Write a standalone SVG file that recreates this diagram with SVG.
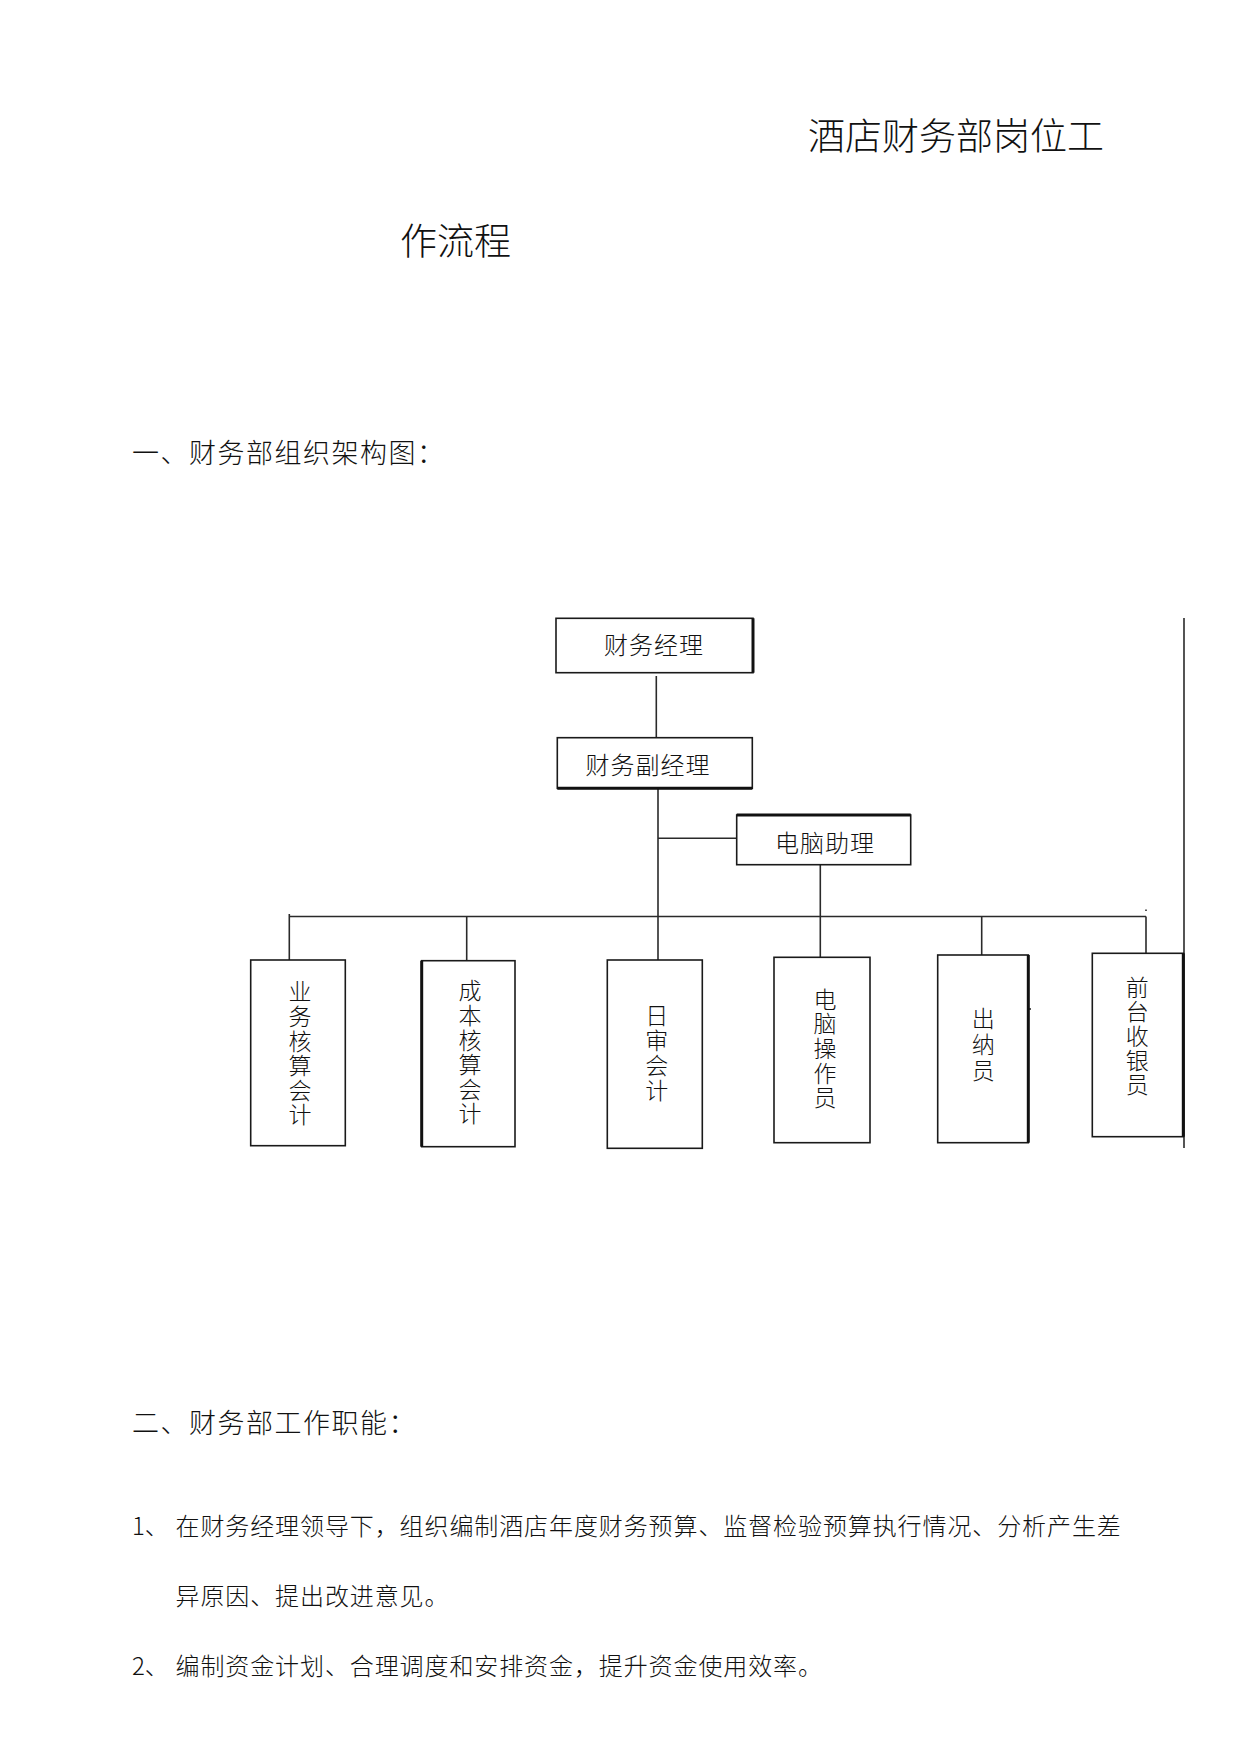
<svg xmlns="http://www.w3.org/2000/svg" width="1240" height="1754" viewBox="0 0 1240 1754">
<style>
.t{font-family:"Noto Sans CJK SC","Liberation Sans",sans-serif;fill:#111;font-weight:300;}
.box{fill:#fff;stroke:#1a1a1a;stroke-width:1.6;}
.thick{stroke:#111;stroke-width:3;}
.conn{fill:none;stroke:#2a2a2a;stroke-width:1.6;}
.lbl{font-size:24px;letter-spacing:1px;text-anchor:middle;}
.v{font-size:23px;text-anchor:middle;writing-mode:vertical-rl;letter-spacing:1.6px;}
</style>
<rect x="0" y="0" width="1240" height="1754" fill="#fff"/>

<text class="t" x="808" y="150" font-size="37">酒店财务部岗位工</text>
<text class="t" x="400" y="255" font-size="37">作流程</text>
<text class="t" x="132" y="463" font-size="27" letter-spacing="1.5">一、财务部组织架构图：</text>

<g id="connectors">
  <path class="conn" d="M656.3 676V738"/>
  <path class="conn" d="M658 788V960"/>
  <path class="conn" d="M658 838.3H737"/>
  <path class="conn" d="M820.3 865V957.5"/>
  <path class="conn" d="M289.3 916.5H1146"/>
  <path class="conn" d="M289.3 914V960"/>
  <path class="conn" d="M466.7 916.5V961"/>
  <path class="conn" d="M981.7 916.5V955"/>
  <path class="conn" d="M1146 916.5V953.5"/>
  <path class="conn" d="M1146 909.5V911" stroke-width="1" stroke="#888"/>
  <path class="conn" d="M1184 618V1148"/>
  <path class="conn" d="M1028 1009H1031" stroke-width="1.2"/>
</g>

<g id="n-manager">
  <rect class="box" x="556" y="618.3" width="197" height="54.4"/>
  <line class="thick" x1="753" y1="618.3" x2="753" y2="672.7"/>
  <text class="t lbl" x="654" y="654">财务经理</text>
</g>
<g id="n-deputy">
  <rect class="box" x="557.3" y="737.7" width="195" height="50.6"/>
  <line class="thick" x1="557.3" y1="788.3" x2="752.3" y2="788.3"/>
  <text class="t lbl" x="648" y="774">财务副经理</text>
</g>
<g id="n-assistant">
  <rect class="box" x="736.7" y="815" width="174" height="49.7"/>
  <line class="thick" x1="736.7" y1="815" x2="910.7" y2="815"/>
  <text class="t lbl" x="825" y="851.5">电脑助理</text>
</g>

<g id="n-business">
  <rect class="box" x="250.7" y="960" width="94.6" height="185.7"/>
  <text class="t v" x="300" y="1054">业务核算会计</text>
</g>
<g id="n-cost">
  <rect class="box" x="421.7" y="960.7" width="93.3" height="186"/>
  <line class="thick" x1="421.7" y1="960.7" x2="421.7" y2="1146.7"/>
  <text class="t v" x="470" y="1053">成本核算会计</text>
</g>
<g id="n-audit">
  <rect class="box" x="607.3" y="960" width="95" height="188.3"/>
  <text class="t v" x="656.7" y="1054" style="letter-spacing:2.2px">日审会计</text>
</g>
<g id="n-operator">
  <rect class="box" x="774" y="957.3" width="96" height="185.4"/>
  <text class="t v" x="825" y="1049">电脑操作员</text>
</g>
<g id="n-cashier">
  <rect class="box" x="937.7" y="955" width="90.6" height="187.7"/>
  <line class="thick" x1="1028.3" y1="955" x2="1028.3" y2="1142.7"/>
  <text class="t v" x="983.3" y="1046" style="letter-spacing:3px">出纳员</text>
</g>
<g id="n-frontdesk">
  <rect class="box" x="1092.3" y="953.3" width="91" height="183.4"/>
  <line class="thick" x1="1183.3" y1="953.3" x2="1183.3" y2="1136.7"/>
  <text class="t v" x="1137.3" y="1036.5" style="letter-spacing:1.4px">前台收银员</text>
</g>

<text class="t" x="132" y="1433" font-size="27" letter-spacing="1.5">二、财务部工作职能：</text>
<text class="t" x="132" y="1535" font-size="24">1、</text>
<text class="t" x="175.5" y="1535" font-size="24" letter-spacing="0.9">在财务经理领导下，组织编制酒店年度财务预算、监督检验预算执行情况、分析产生差</text>
<text class="t" x="175.5" y="1605" font-size="24" letter-spacing="0.9">异原因、提出改进意见。</text>
<text class="t" x="132" y="1675" font-size="24">2、</text>
<text class="t" x="175.5" y="1675" font-size="24" letter-spacing="0.9">编制资金计划、合理调度和安排资金，提升资金使用效率。</text>
</svg>
